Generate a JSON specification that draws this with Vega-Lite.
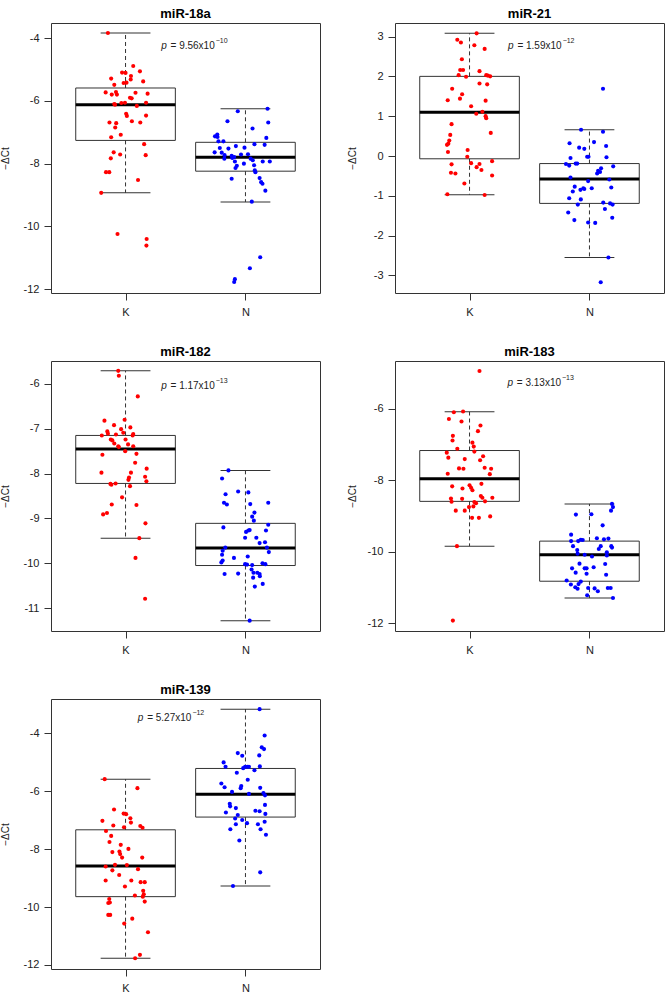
{
"$schema": "https://vega.github.io/schema/vega-lite/v6.json",
"padding": {"left": 0, "top": 7, "right": 0, "bottom": 0},
"background": "white",
"datasets": {
"box": [
{"p":"miR-18a","g":"K","pos":1,"lo":-8.93,"q1":-7.26,"med":-6.12,"q3":-5.59,"hi":-3.84},
{"p":"miR-18a","g":"N","pos":2,"lo":-9.22,"q1":-8.24,"med":-7.80,"q3":-7.32,"hi":-6.25},
{"p":"miR-21","g":"K","pos":1,"lo":-0.97,"q1":-0.07,"med":1.10,"q3":2.00,"hi":3.08},
{"p":"miR-21","g":"N","pos":2,"lo":-2.55,"q1":-1.19,"med":-0.58,"q3":-0.19,"hi":0.66},
{"p":"miR-182","g":"K","pos":1,"lo":-9.44,"q1":-8.22,"med":-7.45,"q3":-7.15,"hi":-5.71},
{"p":"miR-182","g":"N","pos":2,"lo":-11.28,"q1":-10.05,"med":-9.66,"q3":-9.11,"hi":-7.93},
{"p":"miR-183","g":"K","pos":1,"lo":-9.84,"q1":-8.59,"med":-7.96,"q3":-7.17,"hi":-6.09},
{"p":"miR-183","g":"N","pos":2,"lo":-11.29,"q1":-10.82,"med":-10.08,"q3":-9.70,"hi":-8.66},
{"p":"miR-139","g":"K","pos":1,"lo":-11.77,"q1":-9.64,"med":-8.58,"q3":-7.33,"hi":-5.58},
{"p":"miR-139","g":"N","pos":2,"lo":-9.27,"q1":-6.89,"med":-6.10,"q3":-5.21,"hi":-3.16}
],
"ann": [
{"p":"miR-18a","x":1.744,"y":-4.24,"main":"= 9.56x10","exp":"−10"},
{"p":"miR-21","x":1.768,"y":2.77,"main":"= 1.59x10","exp":"−12"},
{"p":"miR-182","x":1.744,"y":-6.05,"main":"= 1.17x10","exp":"−13"},
{"p":"miR-183","x":1.763,"y":-5.28,"main":"= 3.13x10","exp":"−13"},
{"p":"miR-139","x":1.549,"y":-3.45,"main":"= 5.27x10","exp":"−12"}
],
"pts": [
{"p":"miR-18a","g":"K","x":0.853,"y":-3.84},{"p":"miR-18a","g":"K","x":1.064,"y":-4.89},{"p":"miR-18a","g":"K","x":0.971,"y":-5.10},{"p":"miR-18a","g":"K","x":1.000,"y":-5.11},{"p":"miR-18a","g":"K","x":1.120,"y":-5.06},{"p":"miR-18a","g":"K","x":1.045,"y":-5.21},{"p":"miR-18a","g":"K","x":1.043,"y":-5.32},{"p":"miR-18a","g":"K","x":0.880,"y":-5.29},{"p":"miR-18a","g":"K","x":1.147,"y":-5.38},{"p":"miR-18a","g":"K","x":1.008,"y":-5.42},{"p":"miR-18a","g":"K","x":0.984,"y":-5.43},{"p":"miR-18a","g":"K","x":0.906,"y":-5.49},{"p":"miR-18a","g":"K","x":0.834,"y":-5.73},{"p":"miR-18a","g":"K","x":0.920,"y":-5.72},{"p":"miR-18a","g":"K","x":0.885,"y":-5.80},{"p":"miR-18a","g":"K","x":1.083,"y":-5.74},{"p":"miR-18a","g":"K","x":1.184,"y":-5.77},{"p":"miR-18a","g":"K","x":0.928,"y":-5.80},{"p":"miR-18a","g":"K","x":1.051,"y":-5.92},{"p":"miR-18a","g":"K","x":1.037,"y":-5.90},{"p":"miR-18a","g":"K","x":0.965,"y":-6.07},{"p":"miR-18a","g":"K","x":0.906,"y":-6.10},{"p":"miR-18a","g":"K","x":0.995,"y":-6.06},{"p":"miR-18a","g":"K","x":1.094,"y":-6.16},{"p":"miR-18a","g":"K","x":0.912,"y":-6.12},{"p":"miR-18a","g":"K","x":1.171,"y":-6.06},{"p":"miR-18a","g":"K","x":1.005,"y":-6.41},{"p":"miR-18a","g":"K","x":1.011,"y":-6.48},{"p":"miR-18a","g":"K","x":0.866,"y":-6.69},{"p":"miR-18a","g":"K","x":0.922,"y":-6.71},{"p":"miR-18a","g":"K","x":1.053,"y":-6.65},{"p":"miR-18a","g":"K","x":1.123,"y":-6.69},{"p":"miR-18a","g":"K","x":1.171,"y":-6.47},{"p":"miR-18a","g":"K","x":0.914,"y":-6.85},{"p":"miR-18a","g":"K","x":0.960,"y":-7.08},{"p":"miR-18a","g":"K","x":0.880,"y":-7.16},{"p":"miR-18a","g":"K","x":1.155,"y":-7.38},{"p":"miR-18a","g":"K","x":0.901,"y":-7.64},{"p":"miR-18a","g":"K","x":1.168,"y":-7.73},{"p":"miR-18a","g":"K","x":0.955,"y":-7.71},{"p":"miR-18a","g":"K","x":0.877,"y":-7.83},{"p":"miR-18a","g":"K","x":0.837,"y":-8.27},{"p":"miR-18a","g":"K","x":0.864,"y":-8.27},{"p":"miR-18a","g":"K","x":1.104,"y":-8.52},{"p":"miR-18a","g":"K","x":0.797,"y":-8.93},{"p":"miR-18a","g":"K","x":0.933,"y":-10.24},{"p":"miR-18a","g":"K","x":1.176,"y":-10.40},{"p":"miR-18a","g":"K","x":1.174,"y":-10.61},
{"p":"miR-18a","g":"N","x":1.936,"y":-6.33},{"p":"miR-18a","g":"N","x":2.184,"y":-6.25},{"p":"miR-18a","g":"N","x":1.850,"y":-6.65},{"p":"miR-18a","g":"N","x":2.190,"y":-6.69},{"p":"miR-18a","g":"N","x":2.059,"y":-6.88},{"p":"miR-18a","g":"N","x":1.765,"y":-7.07},{"p":"miR-18a","g":"N","x":1.746,"y":-7.13},{"p":"miR-18a","g":"N","x":1.767,"y":-7.15},{"p":"miR-18a","g":"N","x":2.174,"y":-7.18},{"p":"miR-18a","g":"N","x":1.816,"y":-7.29},{"p":"miR-18a","g":"N","x":1.775,"y":-7.29},{"p":"miR-18a","g":"N","x":1.992,"y":-7.49},{"p":"miR-18a","g":"N","x":2.075,"y":-7.38},{"p":"miR-18a","g":"N","x":2.160,"y":-7.40},{"p":"miR-18a","g":"N","x":1.920,"y":-7.44},{"p":"miR-18a","g":"N","x":1.786,"y":-7.50},{"p":"miR-18a","g":"N","x":1.858,"y":-7.52},{"p":"miR-18a","g":"N","x":1.743,"y":-7.64},{"p":"miR-18a","g":"N","x":1.802,"y":-7.65},{"p":"miR-18a","g":"N","x":1.963,"y":-7.71},{"p":"miR-18a","g":"N","x":1.885,"y":-7.75},{"p":"miR-18a","g":"N","x":1.906,"y":-7.79},{"p":"miR-18a","g":"N","x":1.890,"y":-7.82},{"p":"miR-18a","g":"N","x":2.043,"y":-7.84},{"p":"miR-18a","g":"N","x":2.061,"y":-7.89},{"p":"miR-18a","g":"N","x":1.987,"y":-8.00},{"p":"miR-18a","g":"N","x":2.144,"y":-7.93},{"p":"miR-18a","g":"N","x":2.203,"y":-7.93},{"p":"miR-18a","g":"N","x":1.928,"y":-8.07},{"p":"miR-18a","g":"N","x":1.912,"y":-7.93},{"p":"miR-18a","g":"N","x":2.072,"y":-8.05},{"p":"miR-18a","g":"N","x":2.078,"y":-8.21},{"p":"miR-18a","g":"N","x":2.083,"y":-8.27},{"p":"miR-18a","g":"N","x":1.885,"y":-8.48},{"p":"miR-18a","g":"N","x":2.118,"y":-8.46},{"p":"miR-18a","g":"N","x":2.131,"y":-8.59},{"p":"miR-18a","g":"N","x":2.142,"y":-8.64},{"p":"miR-18a","g":"N","x":2.166,"y":-8.86},{"p":"miR-18a","g":"N","x":2.053,"y":-9.21},{"p":"miR-18a","g":"N","x":2.123,"y":-10.98},{"p":"miR-18a","g":"N","x":2.037,"y":-11.33},{"p":"miR-18a","g":"N","x":1.912,"y":-11.68},{"p":"miR-18a","g":"N","x":1.906,"y":-11.77},{"p":"miR-18a","g":"N","x":1.826,"y":-7.73},{"p":"miR-18a","g":"N","x":1.824,"y":-7.84},{"p":"miR-18a","g":"N","x":1.917,"y":-8.14},{"p":"miR-18a","g":"N","x":2.021,"y":-7.70},
{"p":"miR-21","g":"K","x":1.059,"y":3.08},{"p":"miR-21","g":"K","x":0.898,"y":2.92},{"p":"miR-21","g":"K","x":0.928,"y":2.85},{"p":"miR-21","g":"K","x":1.040,"y":2.78},{"p":"miR-21","g":"K","x":1.126,"y":2.69},{"p":"miR-21","g":"K","x":0.936,"y":2.43},{"p":"miR-21","g":"K","x":0.922,"y":2.16},{"p":"miR-21","g":"K","x":0.946,"y":2.16},{"p":"miR-21","g":"K","x":1.083,"y":2.13},{"p":"miR-21","g":"K","x":0.909,"y":2.03},{"p":"miR-21","g":"K","x":0.971,"y":1.99},{"p":"miR-21","g":"K","x":1.139,"y":2.03},{"p":"miR-21","g":"K","x":1.153,"y":2.02},{"p":"miR-21","g":"K","x":1.172,"y":2.00},{"p":"miR-21","g":"K","x":1.083,"y":1.82},{"p":"miR-21","g":"K","x":1.147,"y":1.80},{"p":"miR-21","g":"K","x":0.855,"y":1.69},{"p":"miR-21","g":"K","x":0.938,"y":1.55},{"p":"miR-21","g":"K","x":0.920,"y":1.44},{"p":"miR-21","g":"K","x":0.818,"y":1.40},{"p":"miR-21","g":"K","x":1.134,"y":1.39},{"p":"miR-21","g":"K","x":1.013,"y":1.25},{"p":"miR-21","g":"K","x":1.107,"y":1.11},{"p":"miR-21","g":"K","x":1.056,"y":1.06},{"p":"miR-21","g":"K","x":1.134,"y":1.00},{"p":"miR-21","g":"K","x":1.139,"y":0.95},{"p":"miR-21","g":"K","x":0.850,"y":0.80},{"p":"miR-21","g":"K","x":1.177,"y":0.58},{"p":"miR-21","g":"K","x":0.839,"y":0.53},{"p":"miR-21","g":"K","x":0.831,"y":0.39},{"p":"miR-21","g":"K","x":0.823,"y":0.31},{"p":"miR-21","g":"K","x":0.812,"y":0.28},{"p":"miR-21","g":"K","x":0.820,"y":0.10},{"p":"miR-21","g":"K","x":0.984,"y":0.15},{"p":"miR-21","g":"K","x":0.981,"y":-0.02},{"p":"miR-21","g":"K","x":1.013,"y":-0.18},{"p":"miR-21","g":"K","x":1.083,"y":-0.20},{"p":"miR-21","g":"K","x":1.059,"y":-0.28},{"p":"miR-21","g":"K","x":1.099,"y":-0.35},{"p":"miR-21","g":"K","x":0.850,"y":-0.21},{"p":"miR-21","g":"K","x":1.188,"y":-0.13},{"p":"miR-21","g":"K","x":0.845,"y":-0.42},{"p":"miR-21","g":"K","x":0.882,"y":-0.44},{"p":"miR-21","g":"K","x":1.188,"y":-0.49},{"p":"miR-21","g":"K","x":0.957,"y":-0.69},{"p":"miR-21","g":"K","x":0.815,"y":-0.96},{"p":"miR-21","g":"K","x":1.126,"y":-0.98},
{"p":"miR-21","g":"N","x":2.113,"y":1.69},{"p":"miR-21","g":"N","x":1.930,"y":0.66},{"p":"miR-21","g":"N","x":2.113,"y":0.61},{"p":"miR-21","g":"N","x":1.834,"y":0.32},{"p":"miR-21","g":"N","x":2.038,"y":0.35},{"p":"miR-21","g":"N","x":1.914,"y":0.21},{"p":"miR-21","g":"N","x":1.957,"y":0.18},{"p":"miR-21","g":"N","x":2.139,"y":0.25},{"p":"miR-21","g":"N","x":1.981,"y":-0.02},{"p":"miR-21","g":"N","x":1.992,"y":-0.02},{"p":"miR-21","g":"N","x":1.842,"y":-0.05},{"p":"miR-21","g":"N","x":2.142,"y":-0.03},{"p":"miR-21","g":"N","x":1.804,"y":-0.20},{"p":"miR-21","g":"N","x":1.831,"y":-0.24},{"p":"miR-21","g":"N","x":1.898,"y":-0.19},{"p":"miR-21","g":"N","x":1.885,"y":-0.19},{"p":"miR-21","g":"N","x":2.198,"y":-0.26},{"p":"miR-21","g":"N","x":2.097,"y":-0.31},{"p":"miR-21","g":"N","x":2.072,"y":-0.37},{"p":"miR-21","g":"N","x":2.064,"y":-0.44},{"p":"miR-21","g":"N","x":2.088,"y":-0.40},{"p":"miR-21","g":"N","x":1.842,"y":-0.54},{"p":"miR-21","g":"N","x":1.989,"y":-0.63},{"p":"miR-21","g":"N","x":2.166,"y":-0.59},{"p":"miR-21","g":"N","x":1.877,"y":-0.77},{"p":"miR-21","g":"N","x":1.949,"y":-0.81},{"p":"miR-21","g":"N","x":1.957,"y":-0.83},{"p":"miR-21","g":"N","x":1.925,"y":-0.85},{"p":"miR-21","g":"N","x":2.019,"y":-0.81},{"p":"miR-21","g":"N","x":2.182,"y":-0.79},{"p":"miR-21","g":"N","x":1.861,"y":-0.89},{"p":"miR-21","g":"N","x":1.928,"y":-1.09},{"p":"miR-21","g":"N","x":1.831,"y":-1.06},{"p":"miR-21","g":"N","x":1.903,"y":-1.22},{"p":"miR-21","g":"N","x":2.115,"y":-1.17},{"p":"miR-21","g":"N","x":2.172,"y":-1.19},{"p":"miR-21","g":"N","x":2.193,"y":-1.22},{"p":"miR-21","g":"N","x":2.129,"y":-1.33},{"p":"miR-21","g":"N","x":1.823,"y":-1.42},{"p":"miR-21","g":"N","x":1.874,"y":-1.61},{"p":"miR-21","g":"N","x":1.989,"y":-1.67},{"p":"miR-21","g":"N","x":2.048,"y":-1.68},{"p":"miR-21","g":"N","x":2.190,"y":-1.55},{"p":"miR-21","g":"N","x":2.158,"y":-2.55},{"p":"miR-21","g":"N","x":2.094,"y":-3.17},
{"p":"miR-182","g":"K","x":0.939,"y":-5.71},{"p":"miR-182","g":"K","x":0.944,"y":-5.82},{"p":"miR-182","g":"K","x":1.102,"y":-6.28},{"p":"miR-182","g":"K","x":0.824,"y":-6.82},{"p":"miR-182","g":"K","x":0.992,"y":-6.80},{"p":"miR-182","g":"K","x":0.904,"y":-6.92},{"p":"miR-182","g":"K","x":1.040,"y":-6.97},{"p":"miR-182","g":"K","x":0.963,"y":-7.01},{"p":"miR-182","g":"K","x":0.802,"y":-7.15},{"p":"miR-182","g":"K","x":0.848,"y":-7.06},{"p":"miR-182","g":"K","x":0.853,"y":-7.11},{"p":"miR-182","g":"K","x":0.920,"y":-7.13},{"p":"miR-182","g":"K","x":0.981,"y":-7.09},{"p":"miR-182","g":"K","x":1.064,"y":-7.12},{"p":"miR-182","g":"K","x":1.059,"y":-7.15},{"p":"miR-182","g":"K","x":0.877,"y":-7.24},{"p":"miR-182","g":"K","x":0.890,"y":-7.26},{"p":"miR-182","g":"K","x":0.906,"y":-7.33},{"p":"miR-182","g":"K","x":0.939,"y":-7.39},{"p":"miR-182","g":"K","x":0.944,"y":-7.41},{"p":"miR-182","g":"K","x":1.000,"y":-7.24},{"p":"miR-182","g":"K","x":1.021,"y":-7.35},{"p":"miR-182","g":"K","x":1.064,"y":-7.39},{"p":"miR-182","g":"K","x":0.997,"y":-7.50},{"p":"miR-182","g":"K","x":0.807,"y":-7.58},{"p":"miR-182","g":"K","x":1.091,"y":-7.56},{"p":"miR-182","g":"K","x":1.080,"y":-7.76},{"p":"miR-182","g":"K","x":1.176,"y":-7.89},{"p":"miR-182","g":"K","x":0.799,"y":-7.98},{"p":"miR-182","g":"K","x":1.045,"y":-7.98},{"p":"miR-182","g":"K","x":1.029,"y":-8.09},{"p":"miR-182","g":"K","x":1.024,"y":-8.14},{"p":"miR-182","g":"K","x":1.163,"y":-8.07},{"p":"miR-182","g":"K","x":1.174,"y":-8.17},{"p":"miR-182","g":"K","x":0.874,"y":-8.23},{"p":"miR-182","g":"K","x":0.917,"y":-8.22},{"p":"miR-182","g":"K","x":0.882,"y":-8.25},{"p":"miR-182","g":"K","x":1.037,"y":-8.28},{"p":"miR-182","g":"K","x":0.971,"y":-8.53},{"p":"miR-182","g":"K","x":0.885,"y":-8.69},{"p":"miR-182","g":"K","x":1.091,"y":-8.70},{"p":"miR-182","g":"K","x":0.845,"y":-8.88},{"p":"miR-182","g":"K","x":0.813,"y":-8.91},{"p":"miR-182","g":"K","x":1.166,"y":-9.11},{"p":"miR-182","g":"K","x":1.115,"y":-9.44},{"p":"miR-182","g":"K","x":1.083,"y":-9.88},{"p":"miR-182","g":"K","x":1.163,"y":-10.79},
{"p":"miR-182","g":"N","x":1.858,"y":-7.93},{"p":"miR-182","g":"N","x":1.805,"y":-8.11},{"p":"miR-182","g":"N","x":1.939,"y":-8.40},{"p":"miR-182","g":"N","x":2.024,"y":-8.42},{"p":"miR-182","g":"N","x":1.834,"y":-8.46},{"p":"miR-182","g":"N","x":1.821,"y":-8.65},{"p":"miR-182","g":"N","x":1.845,"y":-8.69},{"p":"miR-182","g":"N","x":2.040,"y":-8.68},{"p":"miR-182","g":"N","x":2.190,"y":-8.65},{"p":"miR-182","g":"N","x":2.075,"y":-8.87},{"p":"miR-182","g":"N","x":2.056,"y":-8.96},{"p":"miR-182","g":"N","x":2.070,"y":-9.05},{"p":"miR-182","g":"N","x":2.190,"y":-9.14},{"p":"miR-182","g":"N","x":1.816,"y":-9.20},{"p":"miR-182","g":"N","x":2.171,"y":-9.27},{"p":"miR-182","g":"N","x":2.005,"y":-9.30},{"p":"miR-182","g":"N","x":2.024,"y":-9.27},{"p":"miR-182","g":"N","x":2.035,"y":-9.26},{"p":"miR-182","g":"N","x":1.997,"y":-9.43},{"p":"miR-182","g":"N","x":2.091,"y":-9.43},{"p":"miR-182","g":"N","x":2.118,"y":-9.55},{"p":"miR-182","g":"N","x":2.163,"y":-9.53},{"p":"miR-182","g":"N","x":2.195,"y":-9.75},{"p":"miR-182","g":"N","x":2.179,"y":-9.65},{"p":"miR-182","g":"N","x":1.832,"y":-9.65},{"p":"miR-182","g":"N","x":1.810,"y":-9.72},{"p":"miR-182","g":"N","x":1.805,"y":-9.81},{"p":"miR-182","g":"N","x":1.904,"y":-9.88},{"p":"miR-182","g":"N","x":2.019,"y":-9.85},{"p":"miR-182","g":"N","x":1.810,"y":-9.94},{"p":"miR-182","g":"N","x":1.799,"y":-9.98},{"p":"miR-182","g":"N","x":1.997,"y":-10.02},{"p":"miR-182","g":"N","x":2.013,"y":-10.03},{"p":"miR-182","g":"N","x":2.056,"y":-10.04},{"p":"miR-182","g":"N","x":2.142,"y":-10.00},{"p":"miR-182","g":"N","x":2.166,"y":-10.02},{"p":"miR-182","g":"N","x":2.051,"y":-10.14},{"p":"miR-182","g":"N","x":2.067,"y":-10.21},{"p":"miR-182","g":"N","x":2.064,"y":-10.32},{"p":"miR-182","g":"N","x":1.826,"y":-10.24},{"p":"miR-182","g":"N","x":1.939,"y":-10.23},{"p":"miR-182","g":"N","x":2.099,"y":-10.21},{"p":"miR-182","g":"N","x":2.118,"y":-10.24},{"p":"miR-182","g":"N","x":2.120,"y":-10.29},{"p":"miR-182","g":"N","x":2.144,"y":-10.46},{"p":"miR-182","g":"N","x":2.078,"y":-10.52},{"p":"miR-182","g":"N","x":2.035,"y":-11.28},
{"p":"miR-183","g":"K","x":1.083,"y":-4.95},{"p":"miR-183","g":"K","x":0.869,"y":-6.10},{"p":"miR-183","g":"K","x":0.946,"y":-6.08},{"p":"miR-183","g":"K","x":0.828,"y":-6.29},{"p":"miR-183","g":"K","x":0.933,"y":-6.36},{"p":"miR-183","g":"K","x":1.070,"y":-6.63},{"p":"miR-183","g":"K","x":1.091,"y":-6.47},{"p":"miR-183","g":"K","x":0.861,"y":-6.76},{"p":"miR-183","g":"K","x":0.858,"y":-6.89},{"p":"miR-183","g":"K","x":1.024,"y":-6.95},{"p":"miR-183","g":"K","x":1.035,"y":-7.06},{"p":"miR-183","g":"K","x":1.040,"y":-7.20},{"p":"miR-183","g":"K","x":0.898,"y":-7.12},{"p":"miR-183","g":"K","x":0.810,"y":-7.23},{"p":"miR-183","g":"K","x":0.823,"y":-7.37},{"p":"miR-183","g":"K","x":1.113,"y":-7.33},{"p":"miR-183","g":"K","x":0.960,"y":-7.41},{"p":"miR-183","g":"K","x":1.088,"y":-7.44},{"p":"miR-183","g":"K","x":0.912,"y":-7.67},{"p":"miR-183","g":"K","x":0.949,"y":-7.68},{"p":"miR-183","g":"K","x":1.126,"y":-7.65},{"p":"miR-183","g":"K","x":1.180,"y":-7.68},{"p":"miR-183","g":"K","x":0.818,"y":-7.82},{"p":"miR-183","g":"K","x":1.169,"y":-7.83},{"p":"miR-183","g":"K","x":0.855,"y":-8.17},{"p":"miR-183","g":"K","x":0.941,"y":-8.23},{"p":"miR-183","g":"K","x":1.000,"y":-8.14},{"p":"miR-183","g":"K","x":1.013,"y":-8.21},{"p":"miR-183","g":"K","x":1.024,"y":-8.28},{"p":"miR-183","g":"K","x":1.099,"y":-8.10},{"p":"miR-183","g":"K","x":1.094,"y":-8.44},{"p":"miR-183","g":"K","x":1.190,"y":-8.49},{"p":"miR-183","g":"K","x":0.845,"y":-8.51},{"p":"miR-183","g":"K","x":0.850,"y":-8.60},{"p":"miR-183","g":"K","x":0.938,"y":-8.52},{"p":"miR-183","g":"K","x":1.040,"y":-8.61},{"p":"miR-183","g":"K","x":1.054,"y":-8.64},{"p":"miR-183","g":"K","x":1.107,"y":-8.49},{"p":"miR-183","g":"K","x":1.129,"y":-8.59},{"p":"miR-183","g":"K","x":1.032,"y":-8.73},{"p":"miR-183","g":"K","x":0.995,"y":-8.75},{"p":"miR-183","g":"K","x":0.960,"y":-8.85},{"p":"miR-183","g":"K","x":0.885,"y":-8.85},{"p":"miR-183","g":"K","x":1.021,"y":-9.05},{"p":"miR-183","g":"K","x":1.078,"y":-9.05},{"p":"miR-183","g":"K","x":1.172,"y":-9.01},{"p":"miR-183","g":"K","x":0.895,"y":-9.84},{"p":"miR-183","g":"K","x":0.861,"y":-11.92},
{"p":"miR-183","g":"N","x":2.188,"y":-8.66},{"p":"miR-183","g":"N","x":2.196,"y":-8.75},{"p":"miR-183","g":"N","x":2.180,"y":-8.85},{"p":"miR-183","g":"N","x":1.887,"y":-8.96},{"p":"miR-183","g":"N","x":2.016,"y":-8.95},{"p":"miR-183","g":"N","x":2.110,"y":-9.26},{"p":"miR-183","g":"N","x":1.847,"y":-9.52},{"p":"miR-183","g":"N","x":1.847,"y":-9.70},{"p":"miR-183","g":"N","x":1.906,"y":-9.70},{"p":"miR-183","g":"N","x":1.928,"y":-9.66},{"p":"miR-183","g":"N","x":1.944,"y":-9.67},{"p":"miR-183","g":"N","x":2.062,"y":-9.62},{"p":"miR-183","g":"N","x":2.158,"y":-9.63},{"p":"miR-183","g":"N","x":2.121,"y":-9.65},{"p":"miR-183","g":"N","x":1.863,"y":-9.84},{"p":"miR-183","g":"N","x":1.898,"y":-9.95},{"p":"miR-183","g":"N","x":2.094,"y":-9.84},{"p":"miR-183","g":"N","x":2.182,"y":-9.84},{"p":"miR-183","g":"N","x":2.188,"y":-9.88},{"p":"miR-183","g":"N","x":2.078,"y":-9.92},{"p":"miR-183","g":"N","x":1.901,"y":-10.05},{"p":"miR-183","g":"N","x":2.021,"y":-10.13},{"p":"miR-183","g":"N","x":2.145,"y":-10.01},{"p":"miR-183","g":"N","x":2.145,"y":-10.10},{"p":"miR-183","g":"N","x":1.960,"y":-10.08},{"p":"miR-183","g":"N","x":1.917,"y":-10.33},{"p":"miR-183","g":"N","x":2.131,"y":-10.34},{"p":"miR-183","g":"N","x":1.855,"y":-10.46},{"p":"miR-183","g":"N","x":1.960,"y":-10.46},{"p":"miR-183","g":"N","x":1.976,"y":-10.46},{"p":"miR-183","g":"N","x":2.035,"y":-10.43},{"p":"miR-183","g":"N","x":1.885,"y":-10.58},{"p":"miR-183","g":"N","x":2.139,"y":-10.64},{"p":"miR-183","g":"N","x":1.976,"y":-10.61},{"p":"miR-183","g":"N","x":1.810,"y":-10.80},{"p":"miR-183","g":"N","x":1.928,"y":-10.83},{"p":"miR-183","g":"N","x":1.845,"y":-10.91},{"p":"miR-183","g":"N","x":1.909,"y":-10.90},{"p":"miR-183","g":"N","x":1.882,"y":-10.99},{"p":"miR-183","g":"N","x":1.901,"y":-11.03},{"p":"miR-183","g":"N","x":1.989,"y":-11.01},{"p":"miR-183","g":"N","x":2.043,"y":-11.02},{"p":"miR-183","g":"N","x":2.153,"y":-11.01},{"p":"miR-183","g":"N","x":2.177,"y":-11.01},{"p":"miR-183","g":"N","x":2.070,"y":-11.10},{"p":"miR-183","g":"N","x":1.981,"y":-11.21},{"p":"miR-183","g":"N","x":2.196,"y":-11.29},
{"p":"miR-139","g":"K","x":0.826,"y":-5.58},{"p":"miR-139","g":"K","x":1.099,"y":-5.89},{"p":"miR-139","g":"K","x":0.904,"y":-6.63},{"p":"miR-139","g":"K","x":0.984,"y":-6.77},{"p":"miR-139","g":"K","x":1.005,"y":-6.79},{"p":"miR-139","g":"K","x":1.040,"y":-6.93},{"p":"miR-139","g":"K","x":1.045,"y":-7.08},{"p":"miR-139","g":"K","x":0.807,"y":-7.02},{"p":"miR-139","g":"K","x":0.837,"y":-7.37},{"p":"miR-139","g":"K","x":0.898,"y":-7.18},{"p":"miR-139","g":"K","x":0.987,"y":-7.24},{"p":"miR-139","g":"K","x":1.123,"y":-7.20},{"p":"miR-139","g":"K","x":1.142,"y":-7.26},{"p":"miR-139","g":"K","x":0.880,"y":-7.54},{"p":"miR-139","g":"K","x":0.866,"y":-7.75},{"p":"miR-139","g":"K","x":0.960,"y":-7.85},{"p":"miR-139","g":"K","x":1.024,"y":-7.99},{"p":"miR-139","g":"K","x":0.890,"y":-8.10},{"p":"miR-139","g":"K","x":0.949,"y":-8.08},{"p":"miR-139","g":"K","x":0.955,"y":-8.17},{"p":"miR-139","g":"K","x":0.971,"y":-8.29},{"p":"miR-139","g":"K","x":1.139,"y":-8.29},{"p":"miR-139","g":"K","x":0.912,"y":-8.54},{"p":"miR-139","g":"K","x":0.834,"y":-8.60},{"p":"miR-139","g":"K","x":1.011,"y":-8.55},{"p":"miR-139","g":"K","x":1.104,"y":-8.69},{"p":"miR-139","g":"K","x":0.890,"y":-8.73},{"p":"miR-139","g":"K","x":0.947,"y":-8.89},{"p":"miR-139","g":"K","x":0.834,"y":-9.08},{"p":"miR-139","g":"K","x":1.048,"y":-9.08},{"p":"miR-139","g":"K","x":1.126,"y":-9.14},{"p":"miR-139","g":"K","x":1.160,"y":-9.14},{"p":"miR-139","g":"K","x":0.995,"y":-9.29},{"p":"miR-139","g":"K","x":1.147,"y":-9.44},{"p":"miR-139","g":"K","x":1.152,"y":-9.56},{"p":"miR-139","g":"K","x":1.144,"y":-9.64},{"p":"miR-139","g":"K","x":1.078,"y":-9.60},{"p":"miR-139","g":"K","x":1.160,"y":-9.81},{"p":"miR-139","g":"K","x":0.864,"y":-9.72},{"p":"miR-139","g":"K","x":0.856,"y":-9.86},{"p":"miR-139","g":"K","x":0.869,"y":-9.84},{"p":"miR-139","g":"K","x":0.856,"y":-10.27},{"p":"miR-139","g":"K","x":0.872,"y":-10.27},{"p":"miR-139","g":"K","x":1.056,"y":-10.40},{"p":"miR-139","g":"K","x":0.989,"y":-10.57},{"p":"miR-139","g":"K","x":1.187,"y":-10.87},{"p":"miR-139","g":"K","x":1.120,"y":-11.65},{"p":"miR-139","g":"K","x":1.080,"y":-11.77},
{"p":"miR-139","g":"N","x":2.118,"y":-3.16},{"p":"miR-139","g":"N","x":2.160,"y":-4.07},{"p":"miR-139","g":"N","x":2.136,"y":-4.48},{"p":"miR-139","g":"N","x":2.155,"y":-4.54},{"p":"miR-139","g":"N","x":1.936,"y":-4.68},{"p":"miR-139","g":"N","x":1.973,"y":-4.77},{"p":"miR-139","g":"N","x":2.115,"y":-4.76},{"p":"miR-139","g":"N","x":1.818,"y":-5.00},{"p":"miR-139","g":"N","x":1.834,"y":-5.15},{"p":"miR-139","g":"N","x":1.997,"y":-5.15},{"p":"miR-139","g":"N","x":2.016,"y":-5.15},{"p":"miR-139","g":"N","x":2.029,"y":-5.15},{"p":"miR-139","g":"N","x":2.120,"y":-5.14},{"p":"miR-139","g":"N","x":2.075,"y":-5.27},{"p":"miR-139","g":"N","x":1.981,"y":-5.20},{"p":"miR-139","g":"N","x":1.928,"y":-5.36},{"p":"miR-139","g":"N","x":2.019,"y":-5.60},{"p":"miR-139","g":"N","x":1.799,"y":-5.73},{"p":"miR-139","g":"N","x":1.965,"y":-5.82},{"p":"miR-139","g":"N","x":1.960,"y":-5.89},{"p":"miR-139","g":"N","x":1.826,"y":-5.86},{"p":"miR-139","g":"N","x":2.123,"y":-5.88},{"p":"miR-139","g":"N","x":1.888,"y":-6.02},{"p":"miR-139","g":"N","x":2.029,"y":-6.09},{"p":"miR-139","g":"N","x":2.150,"y":-6.06},{"p":"miR-139","g":"N","x":2.163,"y":-6.14},{"p":"miR-139","g":"N","x":1.869,"y":-6.43},{"p":"miR-139","g":"N","x":1.872,"y":-6.52},{"p":"miR-139","g":"N","x":1.920,"y":-6.58},{"p":"miR-139","g":"N","x":1.837,"y":-6.73},{"p":"miR-139","g":"N","x":2.163,"y":-6.47},{"p":"miR-139","g":"N","x":2.083,"y":-6.67},{"p":"miR-139","g":"N","x":2.118,"y":-6.69},{"p":"miR-139","g":"N","x":2.166,"y":-6.78},{"p":"miR-139","g":"N","x":1.936,"y":-6.82},{"p":"miR-139","g":"N","x":1.914,"y":-6.94},{"p":"miR-139","g":"N","x":1.973,"y":-6.99},{"p":"miR-139","g":"N","x":1.920,"y":-7.14},{"p":"miR-139","g":"N","x":2.013,"y":-7.10},{"p":"miR-139","g":"N","x":2.104,"y":-7.14},{"p":"miR-139","g":"N","x":2.160,"y":-7.05},{"p":"miR-139","g":"N","x":1.874,"y":-7.31},{"p":"miR-139","g":"N","x":2.126,"y":-7.31},{"p":"miR-139","g":"N","x":2.171,"y":-7.50},{"p":"miR-139","g":"N","x":1.949,"y":-7.70},{"p":"miR-139","g":"N","x":2.123,"y":-8.80},{"p":"miR-139","g":"N","x":1.896,"y":-9.27}
]
},
"columns": 2,
"spacing": {"row": 68, "column": 75},
"bounds": "flush",
"concat": [
{"width": 269, "height": 270, "title": "miR-18a",
 "layer": [
  {"data": {"name": "box"}, "transform": [{"filter": "datum.p=='miR-18a'"}], "mark": {"type": "bar", "width": 99.6, "filled": false, "color": "#333", "strokeWidth": 1},
   "encoding": {"x": {"field": "pos", "type": "quantitative", "title": null, "scale": {"domain": [0.42, 2.58], "nice": false, "zero": false}, "axis": {"values": [1, 2], "labelExpr": "datum.value == 1 ? 'K' : 'N'"}},
    "y": {"field": "q3", "type": "quantitative", "title": "−ΔCt", "scale": {"domain": [-12.12, -3.52], "nice": false, "zero": false}, "axis": {"values": [-12, -10, -8, -6, -4], "labelExpr": "datum.value + ''", "titleX": -45.5, "titleY": 135}},
    "y2": {"field": "q1"}}},
  {"data": {"name": "box"}, "transform": [{"filter": "datum.p=='miR-18a'"}], "mark": {"type": "rule", "strokeDash": [4, 3], "color": "#333"},
   "encoding": {"x": {"field": "pos", "type": "quantitative", "title": null}, "y": {"field": "q3", "type": "quantitative", "title": "−ΔCt"}, "y2": {"field": "hi"}}},
  {"data": {"name": "box"}, "transform": [{"filter": "datum.p=='miR-18a'"}], "mark": {"type": "rule", "strokeDash": [4, 3], "color": "#333"},
   "encoding": {"x": {"field": "pos", "type": "quantitative", "title": null}, "y": {"field": "q1", "type": "quantitative", "title": "−ΔCt"}, "y2": {"field": "lo"}}},
  {"data": {"name": "box"}, "transform": [{"filter": "datum.p=='miR-18a'"}], "mark": {"type": "tick", "orient": "horizontal", "size": 49.8, "thickness": 1, "color": "#333", "opacity": 1},
   "encoding": {"x": {"field": "pos", "type": "quantitative", "title": null}, "y": {"field": "hi", "type": "quantitative", "title": "−ΔCt"}}},
  {"data": {"name": "box"}, "transform": [{"filter": "datum.p=='miR-18a'"}], "mark": {"type": "tick", "orient": "horizontal", "size": 49.8, "thickness": 1, "color": "#333", "opacity": 1},
   "encoding": {"x": {"field": "pos", "type": "quantitative", "title": null}, "y": {"field": "lo", "type": "quantitative", "title": "−ΔCt"}}},
  {"data": {"name": "box"}, "transform": [{"filter": "datum.p=='miR-18a'"}], "mark": {"type": "tick", "orient": "horizontal", "size": 99.6, "thickness": 3, "color": "black", "opacity": 1},
   "encoding": {"x": {"field": "pos", "type": "quantitative", "title": null}, "y": {"field": "med", "type": "quantitative", "title": "−ΔCt"}}},
  {"data": {"name": "pts"}, "transform": [{"filter": "datum.p=='miR-18a'"}], "mark": {"type": "circle", "size": 17, "opacity": 1},
   "encoding": {"x": {"field": "x", "type": "quantitative", "title": null}, "y": {"field": "y", "type": "quantitative", "title": "−ΔCt"}, "color": {"field": "g", "type": "nominal", "scale": {"domain": ["K", "N"], "range": ["#ff0000", "#0000ff"]}, "legend": null}}},
  {"data": {"name": "ann"}, "transform": [{"filter": "datum.p=='miR-18a'"}], "mark": {"type": "text", "align": "right", "baseline": "middle", "fontSize": 10, "color": "#222"},
   "encoding": {"x": {"field": "x", "type": "quantitative", "title": null}, "y": {"field": "y", "type": "quantitative", "title": "−ΔCt"}, "text": {"field": "main"}}},
  {"data": {"name": "ann"}, "transform": [{"filter": "datum.p=='miR-18a'"}], "mark": {"type": "text", "align": "right", "baseline": "middle", "fontSize": 10, "fontStyle": "italic", "dx": -48, "color": "#222"},
   "encoding": {"x": {"field": "x", "type": "quantitative", "title": null}, "y": {"field": "y", "type": "quantitative", "title": "−ΔCt"}, "text": {"value": "p"}}},
  {"data": {"name": "ann"}, "transform": [{"filter": "datum.p=='miR-18a'"}], "mark": {"type": "text", "align": "left", "baseline": "middle", "fontSize": 7, "dx": 1, "dy": -5, "color": "#222"},
   "encoding": {"x": {"field": "x", "type": "quantitative", "title": null}, "y": {"field": "y", "type": "quantitative", "title": "−ΔCt"}, "text": {"field": "exp"}}}
 ]},
{"width": 269, "height": 270, "title": "miR-21",
 "layer": [
  {"data": {"name": "box"}, "transform": [{"filter": "datum.p=='miR-21'"}], "mark": {"type": "bar", "width": 99.6, "filled": false, "color": "#333", "strokeWidth": 1},
   "encoding": {"x": {"field": "pos", "type": "quantitative", "title": null, "scale": {"domain": [0.42, 2.58], "nice": false, "zero": false}, "axis": {"values": [1, 2], "labelExpr": "datum.value == 1 ? 'K' : 'N'"}},
    "y": {"field": "q3", "type": "quantitative", "title": "−ΔCt", "scale": {"domain": [-3.44, 3.34], "nice": false, "zero": false}, "axis": {"values": [-3, -2, -1, 0, 1, 2, 3], "labelExpr": "datum.value + ''", "titleX": -42.5, "titleY": 135}},
    "y2": {"field": "q1"}}},
  {"data": {"name": "box"}, "transform": [{"filter": "datum.p=='miR-21'"}], "mark": {"type": "rule", "strokeDash": [4, 3], "color": "#333"},
   "encoding": {"x": {"field": "pos", "type": "quantitative", "title": null}, "y": {"field": "q3", "type": "quantitative", "title": "−ΔCt"}, "y2": {"field": "hi"}}},
  {"data": {"name": "box"}, "transform": [{"filter": "datum.p=='miR-21'"}], "mark": {"type": "rule", "strokeDash": [4, 3], "color": "#333"},
   "encoding": {"x": {"field": "pos", "type": "quantitative", "title": null}, "y": {"field": "q1", "type": "quantitative", "title": "−ΔCt"}, "y2": {"field": "lo"}}},
  {"data": {"name": "box"}, "transform": [{"filter": "datum.p=='miR-21'"}], "mark": {"type": "tick", "orient": "horizontal", "size": 49.8, "thickness": 1, "color": "#333", "opacity": 1},
   "encoding": {"x": {"field": "pos", "type": "quantitative", "title": null}, "y": {"field": "hi", "type": "quantitative", "title": "−ΔCt"}}},
  {"data": {"name": "box"}, "transform": [{"filter": "datum.p=='miR-21'"}], "mark": {"type": "tick", "orient": "horizontal", "size": 49.8, "thickness": 1, "color": "#333", "opacity": 1},
   "encoding": {"x": {"field": "pos", "type": "quantitative", "title": null}, "y": {"field": "lo", "type": "quantitative", "title": "−ΔCt"}}},
  {"data": {"name": "box"}, "transform": [{"filter": "datum.p=='miR-21'"}], "mark": {"type": "tick", "orient": "horizontal", "size": 99.6, "thickness": 3, "color": "black", "opacity": 1},
   "encoding": {"x": {"field": "pos", "type": "quantitative", "title": null}, "y": {"field": "med", "type": "quantitative", "title": "−ΔCt"}}},
  {"data": {"name": "pts"}, "transform": [{"filter": "datum.p=='miR-21'"}], "mark": {"type": "circle", "size": 17, "opacity": 1},
   "encoding": {"x": {"field": "x", "type": "quantitative", "title": null}, "y": {"field": "y", "type": "quantitative", "title": "−ΔCt"}, "color": {"field": "g", "type": "nominal", "scale": {"domain": ["K", "N"], "range": ["#ff0000", "#0000ff"]}, "legend": null}}},
  {"data": {"name": "ann"}, "transform": [{"filter": "datum.p=='miR-21'"}], "mark": {"type": "text", "align": "right", "baseline": "middle", "fontSize": 10, "color": "#222"},
   "encoding": {"x": {"field": "x", "type": "quantitative", "title": null}, "y": {"field": "y", "type": "quantitative", "title": "−ΔCt"}, "text": {"field": "main"}}},
  {"data": {"name": "ann"}, "transform": [{"filter": "datum.p=='miR-21'"}], "mark": {"type": "text", "align": "right", "baseline": "middle", "fontSize": 10, "fontStyle": "italic", "dx": -48, "color": "#222"},
   "encoding": {"x": {"field": "x", "type": "quantitative", "title": null}, "y": {"field": "y", "type": "quantitative", "title": "−ΔCt"}, "text": {"value": "p"}}},
  {"data": {"name": "ann"}, "transform": [{"filter": "datum.p=='miR-21'"}], "mark": {"type": "text", "align": "left", "baseline": "middle", "fontSize": 7, "dx": 1, "dy": -5, "color": "#222"},
   "encoding": {"x": {"field": "x", "type": "quantitative", "title": null}, "y": {"field": "y", "type": "quantitative", "title": "−ΔCt"}, "text": {"field": "exp"}}}
 ]},
{"width": 269, "height": 270, "title": "miR-182",
 "layer": [
  {"data": {"name": "box"}, "transform": [{"filter": "datum.p=='miR-182'"}], "mark": {"type": "bar", "width": 99.6, "filled": false, "color": "#333", "strokeWidth": 1},
   "encoding": {"x": {"field": "pos", "type": "quantitative", "title": null, "scale": {"domain": [0.42, 2.58], "nice": false, "zero": false}, "axis": {"values": [1, 2], "labelExpr": "datum.value == 1 ? 'K' : 'N'"}},
    "y": {"field": "q3", "type": "quantitative", "title": "−ΔCt", "scale": {"domain": [-11.51, -5.49], "nice": false, "zero": false}, "axis": {"values": [-11, -10, -9, -8, -7, -6], "labelExpr": "datum.value + ''", "titleX": -45.5, "titleY": 135}},
    "y2": {"field": "q1"}}},
  {"data": {"name": "box"}, "transform": [{"filter": "datum.p=='miR-182'"}], "mark": {"type": "rule", "strokeDash": [4, 3], "color": "#333"},
   "encoding": {"x": {"field": "pos", "type": "quantitative", "title": null}, "y": {"field": "q3", "type": "quantitative", "title": "−ΔCt"}, "y2": {"field": "hi"}}},
  {"data": {"name": "box"}, "transform": [{"filter": "datum.p=='miR-182'"}], "mark": {"type": "rule", "strokeDash": [4, 3], "color": "#333"},
   "encoding": {"x": {"field": "pos", "type": "quantitative", "title": null}, "y": {"field": "q1", "type": "quantitative", "title": "−ΔCt"}, "y2": {"field": "lo"}}},
  {"data": {"name": "box"}, "transform": [{"filter": "datum.p=='miR-182'"}], "mark": {"type": "tick", "orient": "horizontal", "size": 49.8, "thickness": 1, "color": "#333", "opacity": 1},
   "encoding": {"x": {"field": "pos", "type": "quantitative", "title": null}, "y": {"field": "hi", "type": "quantitative", "title": "−ΔCt"}}},
  {"data": {"name": "box"}, "transform": [{"filter": "datum.p=='miR-182'"}], "mark": {"type": "tick", "orient": "horizontal", "size": 49.8, "thickness": 1, "color": "#333", "opacity": 1},
   "encoding": {"x": {"field": "pos", "type": "quantitative", "title": null}, "y": {"field": "lo", "type": "quantitative", "title": "−ΔCt"}}},
  {"data": {"name": "box"}, "transform": [{"filter": "datum.p=='miR-182'"}], "mark": {"type": "tick", "orient": "horizontal", "size": 99.6, "thickness": 3, "color": "black", "opacity": 1},
   "encoding": {"x": {"field": "pos", "type": "quantitative", "title": null}, "y": {"field": "med", "type": "quantitative", "title": "−ΔCt"}}},
  {"data": {"name": "pts"}, "transform": [{"filter": "datum.p=='miR-182'"}], "mark": {"type": "circle", "size": 17, "opacity": 1},
   "encoding": {"x": {"field": "x", "type": "quantitative", "title": null}, "y": {"field": "y", "type": "quantitative", "title": "−ΔCt"}, "color": {"field": "g", "type": "nominal", "scale": {"domain": ["K", "N"], "range": ["#ff0000", "#0000ff"]}, "legend": null}}},
  {"data": {"name": "ann"}, "transform": [{"filter": "datum.p=='miR-182'"}], "mark": {"type": "text", "align": "right", "baseline": "middle", "fontSize": 10, "color": "#222"},
   "encoding": {"x": {"field": "x", "type": "quantitative", "title": null}, "y": {"field": "y", "type": "quantitative", "title": "−ΔCt"}, "text": {"field": "main"}}},
  {"data": {"name": "ann"}, "transform": [{"filter": "datum.p=='miR-182'"}], "mark": {"type": "text", "align": "right", "baseline": "middle", "fontSize": 10, "fontStyle": "italic", "dx": -48, "color": "#222"},
   "encoding": {"x": {"field": "x", "type": "quantitative", "title": null}, "y": {"field": "y", "type": "quantitative", "title": "−ΔCt"}, "text": {"value": "p"}}},
  {"data": {"name": "ann"}, "transform": [{"filter": "datum.p=='miR-182'"}], "mark": {"type": "text", "align": "left", "baseline": "middle", "fontSize": 7, "dx": 1, "dy": -5, "color": "#222"},
   "encoding": {"x": {"field": "x", "type": "quantitative", "title": null}, "y": {"field": "y", "type": "quantitative", "title": "−ΔCt"}, "text": {"field": "exp"}}}
 ]},
{"width": 269, "height": 270, "title": "miR-183",
 "layer": [
  {"data": {"name": "box"}, "transform": [{"filter": "datum.p=='miR-183'"}], "mark": {"type": "bar", "width": 99.6, "filled": false, "color": "#333", "strokeWidth": 1},
   "encoding": {"x": {"field": "pos", "type": "quantitative", "title": null, "scale": {"domain": [0.42, 2.58], "nice": false, "zero": false}, "axis": {"values": [1, 2], "labelExpr": "datum.value == 1 ? 'K' : 'N'"}},
    "y": {"field": "q3", "type": "quantitative", "title": "−ΔCt", "scale": {"domain": [-12.21, -4.67], "nice": false, "zero": false}, "axis": {"values": [-12, -11, -10, -9, -8, -7, -6, -5], "labelExpr": "datum.value + ''", "titleX": -43, "titleY": 135}},
    "y2": {"field": "q1"}}},
  {"data": {"name": "box"}, "transform": [{"filter": "datum.p=='miR-183'"}], "mark": {"type": "rule", "strokeDash": [4, 3], "color": "#333"},
   "encoding": {"x": {"field": "pos", "type": "quantitative", "title": null}, "y": {"field": "q3", "type": "quantitative", "title": "−ΔCt"}, "y2": {"field": "hi"}}},
  {"data": {"name": "box"}, "transform": [{"filter": "datum.p=='miR-183'"}], "mark": {"type": "rule", "strokeDash": [4, 3], "color": "#333"},
   "encoding": {"x": {"field": "pos", "type": "quantitative", "title": null}, "y": {"field": "q1", "type": "quantitative", "title": "−ΔCt"}, "y2": {"field": "lo"}}},
  {"data": {"name": "box"}, "transform": [{"filter": "datum.p=='miR-183'"}], "mark": {"type": "tick", "orient": "horizontal", "size": 49.8, "thickness": 1, "color": "#333", "opacity": 1},
   "encoding": {"x": {"field": "pos", "type": "quantitative", "title": null}, "y": {"field": "hi", "type": "quantitative", "title": "−ΔCt"}}},
  {"data": {"name": "box"}, "transform": [{"filter": "datum.p=='miR-183'"}], "mark": {"type": "tick", "orient": "horizontal", "size": 49.8, "thickness": 1, "color": "#333", "opacity": 1},
   "encoding": {"x": {"field": "pos", "type": "quantitative", "title": null}, "y": {"field": "lo", "type": "quantitative", "title": "−ΔCt"}}},
  {"data": {"name": "box"}, "transform": [{"filter": "datum.p=='miR-183'"}], "mark": {"type": "tick", "orient": "horizontal", "size": 99.6, "thickness": 3, "color": "black", "opacity": 1},
   "encoding": {"x": {"field": "pos", "type": "quantitative", "title": null}, "y": {"field": "med", "type": "quantitative", "title": "−ΔCt"}}},
  {"data": {"name": "pts"}, "transform": [{"filter": "datum.p=='miR-183'"}], "mark": {"type": "circle", "size": 17, "opacity": 1},
   "encoding": {"x": {"field": "x", "type": "quantitative", "title": null}, "y": {"field": "y", "type": "quantitative", "title": "−ΔCt"}, "color": {"field": "g", "type": "nominal", "scale": {"domain": ["K", "N"], "range": ["#ff0000", "#0000ff"]}, "legend": null}}},
  {"data": {"name": "ann"}, "transform": [{"filter": "datum.p=='miR-183'"}], "mark": {"type": "text", "align": "right", "baseline": "middle", "fontSize": 10, "color": "#222"},
   "encoding": {"x": {"field": "x", "type": "quantitative", "title": null}, "y": {"field": "y", "type": "quantitative", "title": "−ΔCt"}, "text": {"field": "main"}}},
  {"data": {"name": "ann"}, "transform": [{"filter": "datum.p=='miR-183'"}], "mark": {"type": "text", "align": "right", "baseline": "middle", "fontSize": 10, "fontStyle": "italic", "dx": -48, "color": "#222"},
   "encoding": {"x": {"field": "x", "type": "quantitative", "title": null}, "y": {"field": "y", "type": "quantitative", "title": "−ΔCt"}, "text": {"value": "p"}}},
  {"data": {"name": "ann"}, "transform": [{"filter": "datum.p=='miR-183'"}], "mark": {"type": "text", "align": "left", "baseline": "middle", "fontSize": 7, "dx": 1, "dy": -5, "color": "#222"},
   "encoding": {"x": {"field": "x", "type": "quantitative", "title": null}, "y": {"field": "y", "type": "quantitative", "title": "−ΔCt"}, "text": {"field": "exp"}}}
 ]},
{"width": 269, "height": 270, "title": "miR-139",
 "layer": [
  {"data": {"name": "box"}, "transform": [{"filter": "datum.p=='miR-139'"}], "mark": {"type": "bar", "width": 99.6, "filled": false, "color": "#333", "strokeWidth": 1},
   "encoding": {"x": {"field": "pos", "type": "quantitative", "title": null, "scale": {"domain": [0.42, 2.58], "nice": false, "zero": false}, "axis": {"values": [1, 2], "labelExpr": "datum.value == 1 ? 'K' : 'N'"}},
    "y": {"field": "q3", "type": "quantitative", "title": "−ΔCt", "scale": {"domain": [-12.14, -2.81], "nice": false, "zero": false}, "axis": {"values": [-12, -10, -8, -6, -4], "labelExpr": "datum.value + ''", "titleX": -45.5, "titleY": 135}},
    "y2": {"field": "q1"}}},
  {"data": {"name": "box"}, "transform": [{"filter": "datum.p=='miR-139'"}], "mark": {"type": "rule", "strokeDash": [4, 3], "color": "#333"},
   "encoding": {"x": {"field": "pos", "type": "quantitative", "title": null}, "y": {"field": "q3", "type": "quantitative", "title": "−ΔCt"}, "y2": {"field": "hi"}}},
  {"data": {"name": "box"}, "transform": [{"filter": "datum.p=='miR-139'"}], "mark": {"type": "rule", "strokeDash": [4, 3], "color": "#333"},
   "encoding": {"x": {"field": "pos", "type": "quantitative", "title": null}, "y": {"field": "q1", "type": "quantitative", "title": "−ΔCt"}, "y2": {"field": "lo"}}},
  {"data": {"name": "box"}, "transform": [{"filter": "datum.p=='miR-139'"}], "mark": {"type": "tick", "orient": "horizontal", "size": 49.8, "thickness": 1, "color": "#333", "opacity": 1},
   "encoding": {"x": {"field": "pos", "type": "quantitative", "title": null}, "y": {"field": "hi", "type": "quantitative", "title": "−ΔCt"}}},
  {"data": {"name": "box"}, "transform": [{"filter": "datum.p=='miR-139'"}], "mark": {"type": "tick", "orient": "horizontal", "size": 49.8, "thickness": 1, "color": "#333", "opacity": 1},
   "encoding": {"x": {"field": "pos", "type": "quantitative", "title": null}, "y": {"field": "lo", "type": "quantitative", "title": "−ΔCt"}}},
  {"data": {"name": "box"}, "transform": [{"filter": "datum.p=='miR-139'"}], "mark": {"type": "tick", "orient": "horizontal", "size": 99.6, "thickness": 3, "color": "black", "opacity": 1},
   "encoding": {"x": {"field": "pos", "type": "quantitative", "title": null}, "y": {"field": "med", "type": "quantitative", "title": "−ΔCt"}}},
  {"data": {"name": "pts"}, "transform": [{"filter": "datum.p=='miR-139'"}], "mark": {"type": "circle", "size": 17, "opacity": 1},
   "encoding": {"x": {"field": "x", "type": "quantitative", "title": null}, "y": {"field": "y", "type": "quantitative", "title": "−ΔCt"}, "color": {"field": "g", "type": "nominal", "scale": {"domain": ["K", "N"], "range": ["#ff0000", "#0000ff"]}, "legend": null}}},
  {"data": {"name": "ann"}, "transform": [{"filter": "datum.p=='miR-139'"}], "mark": {"type": "text", "align": "right", "baseline": "middle", "fontSize": 10, "color": "#222"},
   "encoding": {"x": {"field": "x", "type": "quantitative", "title": null}, "y": {"field": "y", "type": "quantitative", "title": "−ΔCt"}, "text": {"field": "main"}}},
  {"data": {"name": "ann"}, "transform": [{"filter": "datum.p=='miR-139'"}], "mark": {"type": "text", "align": "right", "baseline": "middle", "fontSize": 10, "fontStyle": "italic", "dx": -48, "color": "#222"},
   "encoding": {"x": {"field": "x", "type": "quantitative", "title": null}, "y": {"field": "y", "type": "quantitative", "title": "−ΔCt"}, "text": {"value": "p"}}},
  {"data": {"name": "ann"}, "transform": [{"filter": "datum.p=='miR-139'"}], "mark": {"type": "text", "align": "left", "baseline": "middle", "fontSize": 7, "dx": 1, "dy": -5, "color": "#222"},
   "encoding": {"x": {"field": "x", "type": "quantitative", "title": null}, "y": {"field": "y", "type": "quantitative", "title": "−ΔCt"}, "text": {"field": "exp"}}}
 ]}
],
"config": {
 "font": "Liberation Sans",
 "view": {"stroke": "#333", "strokeWidth": 1},
 "axis": {"grid": false, "domain": false, "tickColor": "#333", "tickSize": 7, "labelFont": "Liberation Sans", "labelFontSize": 11, "labelColor": "#222", "titleFont": "Liberation Sans", "titleFontSize": 10, "titleFontWeight": "normal", "titleColor": "#222"},
 "axisX": {"labelPadding": 6},
 "axisY": {"labelPadding": 5, "titleBaseline": "middle", "titleAlign": "center", "titleAngle": -90},
 "title": {"font": "Liberation Sans", "fontSize": 13, "fontWeight": "bold", "anchor": "middle", "offset": 2, "color": "black"}
}
}
